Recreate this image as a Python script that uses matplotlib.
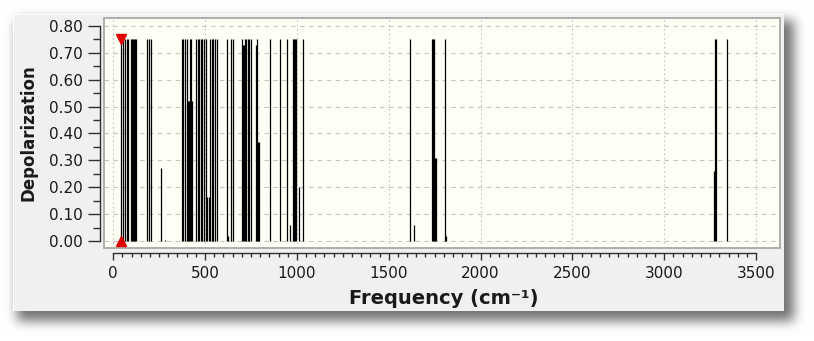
import numpy as np
import matplotlib
matplotlib.use("Agg")
import matplotlib.pyplot as plt
from matplotlib.patches import Rectangle
from matplotlib.ticker import FixedLocator

# Vibrational modes: frequency (cm^-1) and Raman depolarization ratio
freqs = [44, 54, 64, 74, 82,
         98, 103, 109, 114, 120, 125,
         184, 195, 206,
         258, 282,
         373, 381, 390, 400, 405, 410, 418, 423, 428,
         450, 459, 468, 477, 486, 495, 504, 513, 519, 527, 537, 546, 555, 565,
         621, 627, 643, 650,
         700, 705, 710, 716, 724, 733, 742, 751,
         780, 785, 790, 794,
         852, 906, 946, 960, 977, 983, 989, 995, 1010, 1036,
         1614, 1636, 1733, 1740, 1748, 1754, 1759, 1804, 1811,
         3268, 3275, 3284, 3342]
depol = [0.75, 0.75, 0.75, 0.75, 0.75,
         0.75, 0.75, 0.75, 0.75, 0.75, 0.75,
         0.75, 0.75, 0.75,
         0.27, 0.005,
         0.75, 0.75, 0.75, 0.75, 0.52, 0.52, 0.75, 0.75, 0.52,
         0.75, 0.75, 0.75, 0.75, 0.75, 0.75, 0.75, 0.165, 0.165, 0.75, 0.75, 0.75, 0.75, 0.75,
         0.75, 0.02, 0.75, 0.75,
         0.75, 0.73, 0.73, 0.75, 0.75, 0.75, 0.75, 0.75,
         0.73, 0.75, 0.37, 0.37,
         0.75, 0.75, 0.75, 0.06, 0.75, 0.75, 0.75, 0.75, 0.20, 0.75,
         0.75, 0.06, 0.75, 0.75, 0.75, 0.31, 0.31, 0.75, 0.02,
         0.26, 0.75, 0.75, 0.75]

x_ticks = [0, 500, 1000, 1500, 2000, 2500, 3000, 3500]
y_ticks = [0.00, 0.10, 0.20, 0.30, 0.40, 0.50, 0.60, 0.70, 0.80]

W, H = 814, 341
fig = plt.figure(figsize=(W / 100, H / 100), dpi=100)

# ---- window panel with a soft drop shadow ----
def box_blur(a, r):
    for axis in (0, 1):
        for _ in range(3):
            c = np.cumsum(np.pad(a, [(r + 1, r) if i == axis else (0, 0) for i in range(2)],
                                 mode="edge"), axis=axis)
            if axis == 0:
                a = (c[2 * r + 1:] - c[:-2 * r - 1]) / (2 * r + 1)
            else:
                a = (c[:, 2 * r + 1:] - c[:, :-2 * r - 1]) / (2 * r + 1)
    return a

px0, px1, py0, py1 = 13, 784, 14, 311
mask = np.zeros((H, W))
mask[py0 + 6:py1 + 10, px0 + 4:px1 + 10] = 1.0
shade = box_blur(mask, 5) * 0.55
bg = np.ones((H, W, 3)) * (1.0 - shade)[..., None]
bg[py0:py1, px0:px1] = np.array([240, 240, 240]) / 255.0
bg[py0, px0:px1] = 1.0
bg[py0:py1, px0] = 1.0
fig.figimage(bg, xo=0, yo=0, origin="upper", zorder=-10)

# ---- plot area ----
ax = fig.add_axes([104 / W, 1 - 248.3 / H, 676 / W, 230 / H])
ax.set_zorder(2)
ax.set_xlim(-50, 3630)
ax.set_ylim(-0.027, 0.828)
ax.set_facecolor("#fffff5")

for s in ("top", "right"):
    ax.spines[s].set_visible(False)
ax.spines["left"].set_position(("outward", 3))
ax.spines["left"].set_bounds(0, 0.8)
ax.spines["bottom"].set_position(("outward", 3.2))
ax.spines["bottom"].set_bounds(0, 3500)
for s in ("left", "bottom"):
    ax.spines[s].set_color("#303030")
    ax.spines[s].set_linewidth(1.0)

ax.add_patch(Rectangle((0, 0), 1, 1, transform=ax.transAxes, fill=False,
                       ec="#a8a8a8", lw=1.3, zorder=5, clip_on=False))

# grid
for xv in x_ticks:
    ax.axvline(xv, color="#c4c4c4", lw=0.8, ls=(0, (1.5, 2.5)), zorder=1)
for yv in y_ticks:
    ax.axhline(yv, color="#c4c4c4", lw=0.8, ls=(0, (4, 4)), zorder=1)

# depolarization sticks
ax.vlines(freqs, 0, depol, color="black", lw=0.9, zorder=3)

# cursor markers on the first mode
ax.plot([freqs[0]], [depol[0]], marker="v", color="#e00000", ms=6.5,
        clip_on=False, zorder=6, ls="none")
ax.plot([freqs[0]], [0.0], marker="^", color="#e00000", ms=6.5,
        clip_on=False, zorder=6, ls="none")

# ticks
ax.set_xticks(x_ticks)
ax.set_xticklabels([str(v) for v in x_ticks])
ax.xaxis.set_minor_locator(FixedLocator(np.arange(0, 3501, 50)))
ax.set_yticks(y_ticks)
ax.set_yticklabels([f"{v:.2f}" for v in y_ticks])
ax.yaxis.set_minor_locator(FixedLocator(np.arange(0, 0.801, 0.05)))

ax.tick_params(axis="y", which="major", length=8.6, width=1.0, pad=3.6,
               color="#303030", labelsize=11, labelcolor="#1a1a1a")
ax.tick_params(axis="y", which="minor", length=4.8, width=1.0, color="#303030")
ax.tick_params(axis="x", which="major", length=5, width=1.0, pad=4.5,
               color="#303030", labelsize=11, labelcolor="#1a1a1a")
ax.tick_params(axis="x", which="minor", length=3, width=1.0, color="#303030")

fig.text(444 / W, 1 - 298 / H, "Frequency (cm⁻¹)", ha="center", va="center",
         fontsize=14, fontweight="bold", color="#1a1a1a", zorder=3)
fig.text(28.5 / W, 1 - 133 / H, "Depolarization", ha="center", va="center",
         rotation=90, fontsize=12, fontweight="bold", color="#1a1a1a", zorder=3)

fig.savefig("out.png", dpi=100)
